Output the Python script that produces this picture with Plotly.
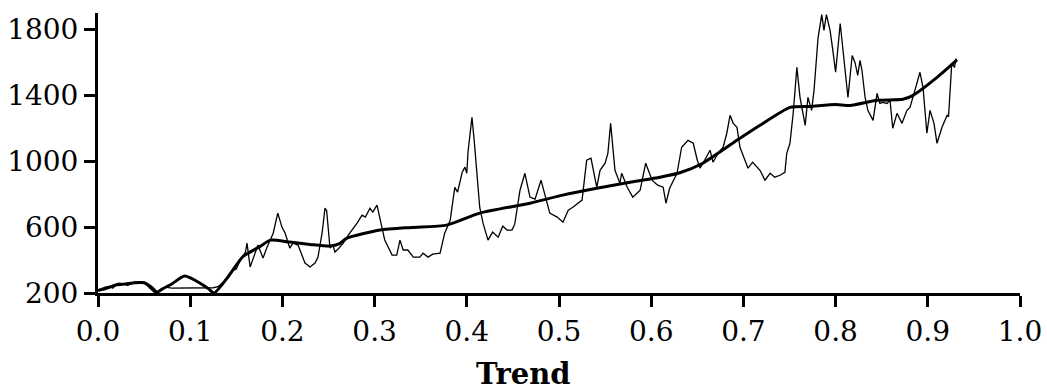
import plotly.graph_objects as go

# Raw series (thin line)
raw_x = [0.000, 0.008, 0.013, 0.016, 0.022, 0.029, 0.032, 0.040, 0.048, 0.051,
         0.056, 0.062, 0.067, 0.073, 0.080, 0.116, 0.125, 0.130, 0.135, 0.140,
         0.146, 0.150, 0.153, 0.157, 0.160, 0.1616, 0.165, 0.1735, 0.179, 0.183,
         0.190, 0.195, 0.1995, 0.203, 0.208, 0.2115, 0.217, 0.2245, 0.230, 0.2354,
         0.2386, 0.243, 0.2462, 0.248, 0.2516, 0.2548, 0.257, 0.261, 0.266, 0.273,
         0.281, 0.2864, 0.290, 0.295, 0.298, 0.3026, 0.306, 0.311, 0.319, 0.324,
         0.3275, 0.331, 0.336, 0.342, 0.349, 0.3525, 0.358, 0.363, 0.371, 0.376,
         0.382, 0.387, 0.390, 0.395, 0.398, 0.400, 0.4013, 0.4056, 0.408, 0.411,
         0.414, 0.4176, 0.423, 0.428, 0.434, 0.439, 0.4436, 0.449, 0.452, 0.4577,
         0.463, 0.4685, 0.474, 0.4805, 0.485, 0.490, 0.498, 0.5043, 0.510, 0.515,
         0.525, 0.530, 0.5347, 0.541, 0.5445, 0.550, 0.553, 0.556, 0.5607, 0.566,
         0.568, 0.574, 0.580, 0.588, 0.594, 0.601, 0.607, 0.613, 0.616, 0.620,
         0.628, 0.633, 0.640, 0.6456, 0.650, 0.653, 0.658, 0.6638, 0.667, 0.6725,
         0.678, 0.682, 0.6855, 0.689, 0.693, 0.6963, 0.705, 0.710, 0.718, 0.7234,
         0.729, 0.734, 0.7397, 0.745, 0.747, 0.7505, 0.754, 0.758, 0.7614, 0.767,
         0.770, 0.774, 0.7766, 0.781, 0.785, 0.7874, 0.790, 0.794, 0.797, 0.800,
         0.805, 0.808, 0.8134, 0.818, 0.821, 0.824, 0.8265, 0.8286, 0.832, 0.835,
         0.8406, 0.845, 0.848, 0.8514, 0.8557, 0.859, 0.862, 0.8666, 0.872, 0.8774,
         0.8807, 0.886, 0.8915, 0.8948, 0.899, 0.9024, 0.9067, 0.910, 0.9154, 0.921,
         0.9225, 0.926, 0.929, 0.9306]
raw_y = [218, 236, 242, 230, 260, 255, 245, 267, 267, 260,
         230, 200, 218, 236, 230, 230, 232, 238, 260, 290,
         335, 345, 382, 420, 450, 503, 358, 491, 412, 473,
         563, 685, 600, 563, 473, 503, 491, 382, 358, 382,
         418, 563, 715, 700, 473, 491, 449, 470, 503, 563,
         624, 673, 661, 715, 691, 733, 642, 521, 430, 430,
         521, 461, 461, 418, 418, 442, 418, 436, 442, 563,
         642, 842, 812, 933, 964, 927, 1055, 1267, 1127, 903,
         721, 624, 521, 570, 539, 606, 582, 582, 618, 824,
         927, 782, 770, 885, 782, 685, 661, 630, 703, 721,
         764, 1006, 1018, 842, 945, 988, 1048, 1230, 945, 867,
         927, 842, 782, 824, 988, 885, 855, 842, 745, 836,
         927, 1085, 1127, 1109, 1006, 958, 1006, 1067, 994, 1048,
         1085, 1170, 1279, 1230, 1206, 1085, 958, 994, 945, 885,
         927, 903, 915, 933, 1048, 1109, 1291, 1570, 1388, 1218,
         1388, 1309, 1430, 1751, 1890, 1794, 1890, 1794, 1673, 1540,
         1836, 1673, 1388, 1642, 1600, 1521, 1612, 1551, 1388, 1309,
         1248, 1412, 1351, 1357, 1351, 1370, 1200, 1291, 1230, 1309,
         1327, 1430, 1540, 1448, 1170, 1309, 1230, 1109, 1206, 1279,
         1270, 1594, 1570, 1624]

# Smoothed trend (thick line)
trend_x = [0.000, 0.010, 0.020, 0.030, 0.040, 0.050, 0.058, 0.064, 0.070, 0.080,
           0.094, 0.110, 0.120, 0.126, 0.140, 0.157, 0.175, 0.187, 0.208, 0.230,
           0.2516, 0.262, 0.270, 0.306, 0.340, 0.378, 0.414, 0.4685, 0.504, 0.541,
           0.577, 0.6095, 0.631, 0.656, 0.693, 0.718, 0.7505, 0.772, 0.800, 0.8156,
           0.845, 0.873, 0.884, 0.910, 0.9317]
trend_y = [215, 230, 250, 255, 262, 262, 235, 205, 225, 255,
           303, 262, 225, 200, 290, 420, 480, 521, 509, 495,
           485, 500, 533, 582, 598, 612, 685, 745, 794, 836,
           873, 903, 930, 988, 1127, 1218, 1327, 1333, 1345, 1339,
           1370, 1376, 1400, 1509, 1615]

x_ticks = [0.0, 0.1, 0.2, 0.3, 0.4, 0.5, 0.6, 0.7, 0.8, 0.9, 1.0]
y_ticks = [200, 600, 1000, 1400, 1800]

FONT = "DejaVu Serif"

fig = go.Figure()
fig.add_trace(go.Scatter(x=raw_x, y=raw_y, mode="lines",
                         line=dict(color="black", width=1.3), showlegend=False))
fig.add_trace(go.Scatter(x=trend_x, y=trend_y, mode="lines",
                         line=dict(color="black", width=3, shape="spline", smoothing=0.6),
                         showlegend=False))

axis_common = dict(showgrid=False, zeroline=False, showline=True, linecolor="black",
                   linewidth=3, ticks="outside", ticklen=11, tickwidth=3,
                   tickcolor="black", automargin=False,
                   tickfont=dict(family=FONT, size=28, color="black"))

fig.update_layout(
    width=1047, height=392,
    margin=dict(l=98, r=27, t=13, b=99),
    plot_bgcolor="white", paper_bgcolor="white",
    xaxis=dict(range=[0, 1.0], tickvals=x_ticks, tickformat=".1f", **axis_common),
    yaxis=dict(range=[200, 1900], tickvals=y_ticks, **axis_common),
    annotations=[dict(text="<b>Trend</b>", xref="paper", yref="paper",
                      x=(523.5 - 98) / 922, y=-0.222, xanchor="center", yanchor="top",
                      showarrow=False, font=dict(family=FONT, size=29, color="black"))],
)

fig.write_html("out.html")
